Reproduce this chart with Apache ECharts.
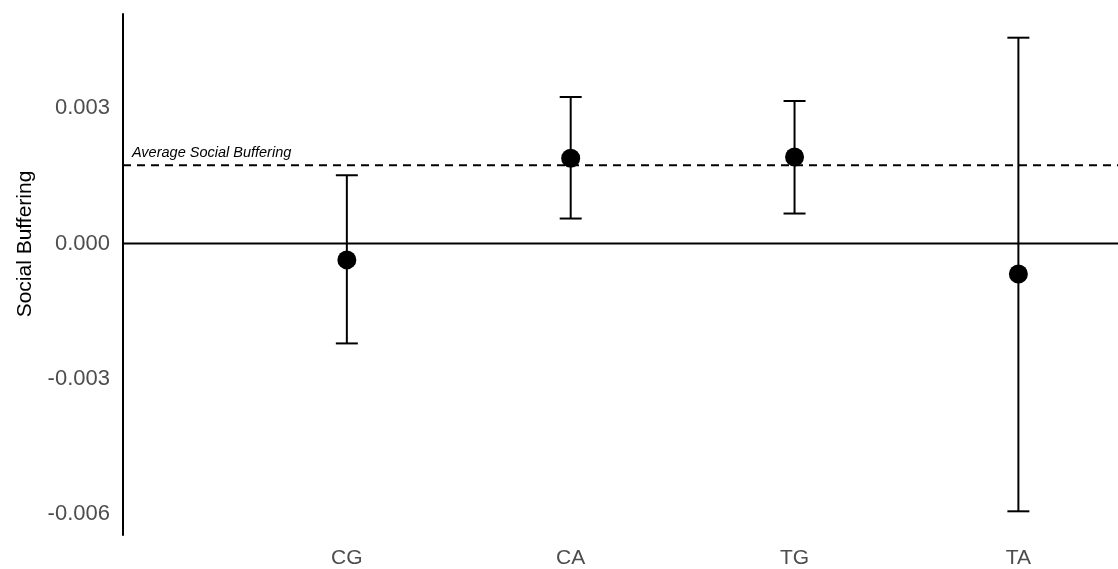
<!DOCTYPE html>
<html>
<head>
<meta charset="utf-8">
<script src="https://cdn.jsdelivr.net/npm/echarts@6/dist/echarts.min.js"></script>
<style>html,body{margin:0;padding:0;background:#fff;}#c{width:1118px;height:569px;}</style>
</head>
<body>
<div id="c"></div>
<script>
var categories = ['CG', 'CA', 'TG', 'TA'];
var means = [-0.000363, 0.001889, 0.001917, -0.000677];
var lower = [-0.002214, 0.000553, 0.000664, -0.005934];
var upper = [0.001512, 0.003246, 0.003157, 0.00456];
var averageBuffering = 0.001733;
var yTicks = [-0.006, -0.003, 0, 0.003];
var avgLabel = 'Average Social Buffering';
var yTitle = 'Social Buffering';

var X_MIN = 0, X_MAX = 4.445;
var xPos = categories.map(function (c, i) { return i + 1; });
var errData = categories.map(function (c, i) { return [xPos[i], lower[i], upper[i]]; });
var ptData = categories.map(function (c, i) { return [xPos[i], means[i]]; });
var refLines = [[0, 0], [averageBuffering, 1]];

var FONT = 'Liberation Sans, Arial, sans-serif';
var chart = echarts.init(document.getElementById('c'));
chart.setOption({
  animation: false,
  backgroundColor: '#ffffff',
  grid: { left: 123, right: 0, top: 14, bottom: 33, containLabel: false },
  xAxis: {
    type: 'value', min: X_MIN, max: X_MAX,
    axisLine: { show: false }, axisTick: { show: false }, splitLine: { show: false },
    axisLabel: {
      customValues: xPos,
      formatter: function (v) { return categories[Math.round(v) - 1] || ''; },
      fontFamily: FONT, fontSize: 21, color: '#4d4d4d', margin: 13
    }
  },
  yAxis: {
    type: 'value', min: -0.006459, max: 0.005085,
    axisLine: { show: true, lineStyle: { color: '#000', width: 2 } },
    axisTick: { show: false }, splitLine: { show: false },
    axisLabel: {
      customValues: yTicks,
      formatter: function (v) { return v.toFixed(3); },
      fontFamily: FONT, fontSize: 22, color: '#4d4d4d', margin: 13
    }
  },
  graphic: [{
    type: 'text', rotation: Math.PI / 2, x: 25, y: 244,
    style: { text: yTitle, fontFamily: FONT, fontSize: 21, fill: '#000', textAlign: 'center', textVerticalAlign: 'middle' }
  }],
  series: [
    {
      type: 'custom', silent: true, data: refLines, clip: false,
      renderItem: function (params, api) {
        var a = api.coord([X_MIN, api.value(0)]);
        var b = api.coord([X_MAX, api.value(0)]);
        var dashed = api.value(1) === 1;
        return {
          type: 'line',
          shape: { x1: a[0], y1: a[1], x2: b[0], y2: b[1] },
          style: { stroke: '#000', lineWidth: 2, lineDash: dashed ? [8, 6] : null }
        };
      }
    },
    {
      type: 'custom', silent: true,
      data: [[0.04, averageBuffering]],
      renderItem: function (params, api) {
        var p = api.coord([api.value(0), api.value(1)]);
        return {
          type: 'text',
          style: { x: p[0], y: p[1] - 5, text: avgLabel, fontFamily: FONT, fontStyle: 'italic', fontSize: 14.5, fill: '#000', textAlign: 'left', textVerticalAlign: 'bottom' }
        };
      }
    },
    {
      type: 'custom', silent: true, data: errData,
      renderItem: function (params, api) {
        var lo = api.coord([api.value(0), api.value(1)]);
        var hi = api.coord([api.value(0), api.value(2)]);
        var w = 11;
        var st = { stroke: '#000', lineWidth: 2 };
        return {
          type: 'group', children: [
            { type: 'line', shape: { x1: lo[0], y1: lo[1], x2: hi[0], y2: hi[1] }, style: st },
            { type: 'line', shape: { x1: lo[0] - w, y1: lo[1], x2: lo[0] + w, y2: lo[1] }, style: st },
            { type: 'line', shape: { x1: hi[0] - w, y1: hi[1], x2: hi[0] + w, y2: hi[1] }, style: st }
          ]
        };
      }
    },
    {
      type: 'scatter', data: ptData, symbol: 'circle', symbolSize: 19, silent: true,
      itemStyle: { color: '#000', opacity: 1 }
    }
  ]
});
</script>
</body>
</html>
